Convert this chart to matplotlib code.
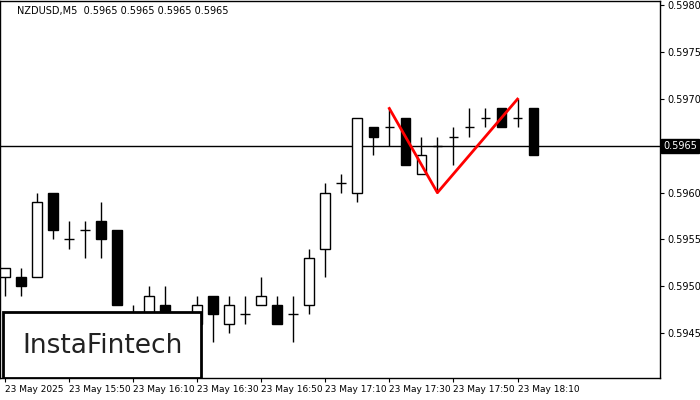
import numpy as np
import matplotlib.pyplot as plt
from matplotlib.patches import Rectangle

opens = [0.5951, 0.5951, 0.5951, 0.5960, 0.5955, 0.5956, 0.5957, 0.5956, 0.5947, 0.5944,
         0.5948, 0.5947, 0.5946, 0.5949, 0.5946, 0.5947, 0.5948, 0.5948, 0.5947, 0.5948,
         0.5954, 0.5961, 0.5960, 0.5967, 0.5967, 0.5968, 0.5962, 0.5965, 0.5966, 0.5967,
         0.5968, 0.5969, 0.5968, 0.5969]
closes = [0.5952, 0.5950, 0.5959, 0.5956, 0.5955, 0.5956, 0.5955, 0.5948, 0.5945, 0.5949,
          0.5946, 0.5947, 0.5948, 0.5947, 0.5948, 0.5947, 0.5949, 0.5946, 0.5947, 0.5953,
          0.5960, 0.5961, 0.5968, 0.5966, 0.5967, 0.5963, 0.5964, 0.5965, 0.5966, 0.5967,
          0.5968, 0.5967, 0.5968, 0.5964]
highs = [0.5952, 0.5952, 0.5960, 0.5960, 0.5957, 0.5957, 0.5959, 0.5956, 0.5948, 0.5950,
         0.5950, 0.5947, 0.5949, 0.5949, 0.5949, 0.5949, 0.5951, 0.5949, 0.5949, 0.5954,
         0.5961, 0.5962, 0.5968, 0.5967, 0.5969, 0.5968, 0.5966, 0.5966, 0.5967, 0.5969,
         0.5969, 0.5969, 0.5970, 0.5969]
lows = [0.5949, 0.5949, 0.5951, 0.5955, 0.5954, 0.5953, 0.5953, 0.5948, 0.5944, 0.5943,
        0.5945, 0.5944, 0.5945, 0.5944, 0.5945, 0.5946, 0.5948, 0.5946, 0.5944, 0.5947,
        0.5951, 0.5960, 0.5959, 0.5964, 0.5965, 0.5963, 0.5962, 0.5960, 0.5963, 0.5966,
        0.5967, 0.5967, 0.5967, 0.5964]
pattern_x = [24, 27, 32]
pattern_y = [0.5969, 0.5960, 0.5970]
tick_idx = [0, 4, 8, 12, 16, 20, 24, 28, 32]
tick_labels = ["23 May 2025", "23 May 15:50", "23 May 16:10", "23 May 16:30", "23 May 16:50",
               "23 May 17:10", "23 May 17:30", "23 May 17:50", "23 May 18:10"]
yticks = [0.5945, 0.5950, 0.5955, 0.5960, 0.5965, 0.5970, 0.5975, 0.5980]
last = 0.5965

fig = plt.figure(figsize=(7, 4), dpi=100)
ax = fig.add_axes([0.0, 0.055, 0.943, 0.943])
w = 0.6
for i, (o, c, h, l) in enumerate(zip(opens, closes, highs, lows)):
    ax.vlines(i, l, h, color="black", lw=1)
    if abs(c - o) < 1e-6:
        ax.hlines(o, i - w / 2, i + w / 2, color="black", lw=1)
    else:
        face = "white" if c > o else "black"
        ax.add_patch(Rectangle((i - w / 2, min(o, c)), w, abs(c - o),
                               facecolor=face, edgecolor="black", lw=1, zorder=3))

ax.axhline(last, color="black", lw=1, zorder=1)
ax.plot(pattern_x, pattern_y, color="red", lw=2, zorder=5)

ax.set_xlim(-0.3, 40.9)
ax.set_ylim(0.59402, 0.59805)
ax.yaxis.tick_right()
ax.set_yticks(yticks)
# the current price gets its own boxed label instead
ax.set_yticklabels(["" if v == last else f"{v:.4f}" for v in yticks], fontsize=7)
ax.tick_params(axis="y", length=3, pad=2)
ax.set_xticks(tick_idx)
ax.set_xticklabels(tick_labels, fontsize=6.5, ha="left")
ax.tick_params(axis="x", length=3, pad=2)
for s in ax.spines.values():
    s.set_linewidth(1)

ax.text(1.005, last, f"{last:.4f}", transform=ax.get_yaxis_transform(), fontsize=7,
        color="white", va="center", ha="left",
        bbox=dict(facecolor="black", edgecolor="black", pad=1.5))
ax.text(0.025, 0.985, "NZDUSD,M5  0.5965 0.5965 0.5965 0.5965", transform=ax.transAxes,
        fontsize=7, va="top", ha="left")

ax.add_patch(Rectangle((0.005, 0.0), 0.3, 0.175, transform=ax.transAxes,
                       facecolor="white", edgecolor="black", lw=2, zorder=6))
ax.text(0.155, 0.085, "InstaFintech", transform=ax.transAxes, fontsize=19,
        ha="center", va="center", color="#222222", zorder=7)

fig.savefig("out.png", dpi=100)
